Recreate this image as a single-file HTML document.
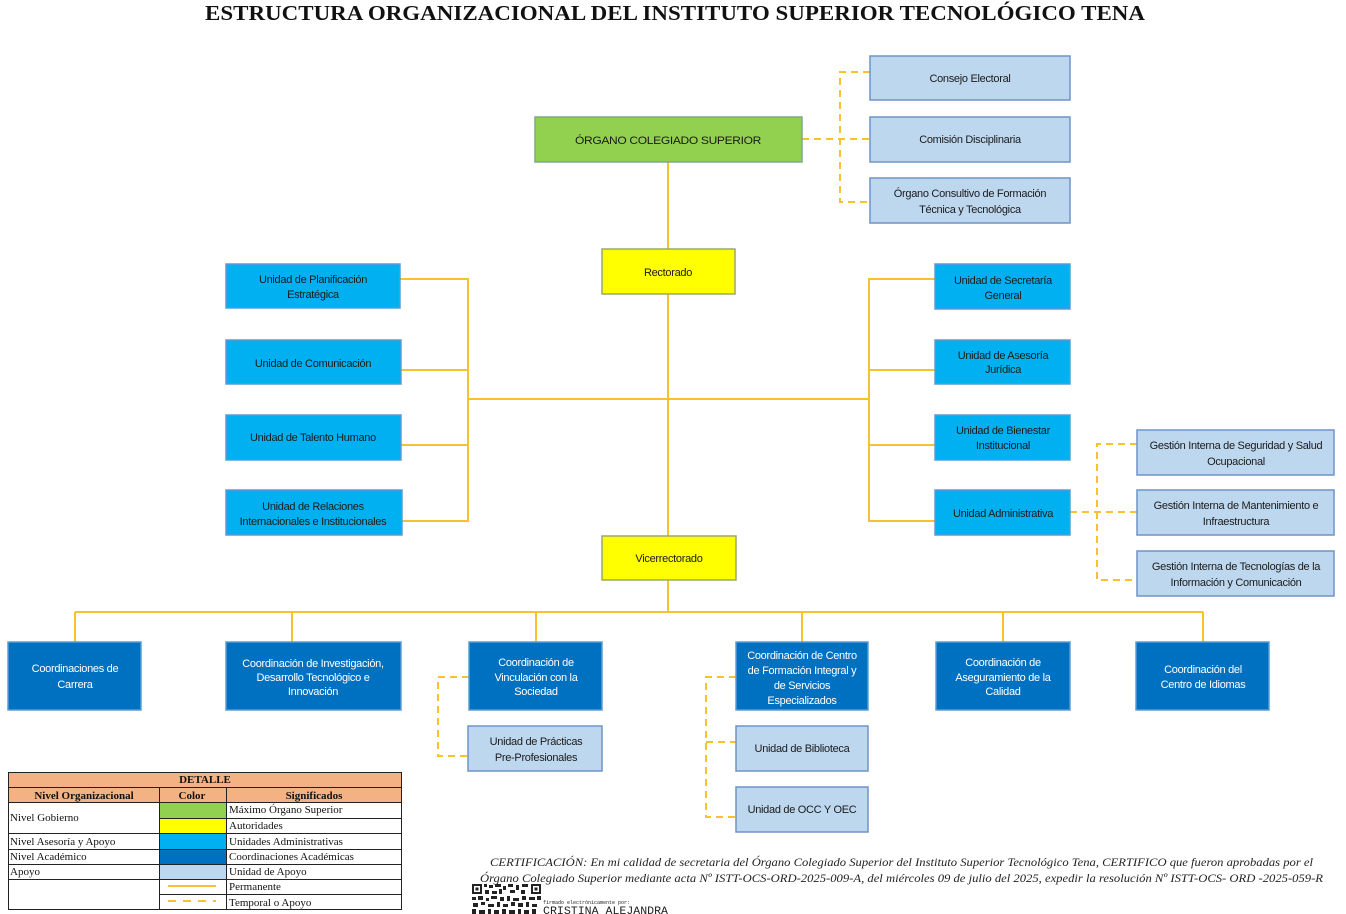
<!DOCTYPE html>
<html><head><meta charset="utf-8"><style>
html,body{margin:0;padding:0;background:#fff;}
svg{display:block;}
.t{font-family:"Liberation Sans",sans-serif;font-size:11px;text-anchor:middle;fill:#1b1b1b;letter-spacing:-0.3px;}
.w{fill:#fff;}
.s{font-family:"Liberation Serif",serif;font-size:11px;fill:#111;}
.sb{font-family:"Liberation Serif",serif;font-size:11px;font-weight:bold;fill:#111;text-anchor:middle;}
</style></head><body>
<svg width="1346" height="914" viewBox="0 0 1346 914" xmlns="http://www.w3.org/2000/svg">
<rect width="1346" height="914" fill="#fff"/>
<text x="675" y="20" font-family="Liberation Serif,serif" font-weight="bold" font-size="21" text-anchor="middle" textLength="940" lengthAdjust="spacingAndGlyphs" fill="#111">ESTRUCTURA ORGANIZACIONAL DEL INSTITUTO SUPERIOR TECNOLÓGICO TENA</text>

<!-- solid connectors -->
<g stroke="#F7C12F" stroke-width="2" fill="none">
<line x1="668" y1="162" x2="668" y2="249"/>
<line x1="668" y1="294" x2="668" y2="536"/>
<line x1="468" y1="399" x2="869" y2="399"/>
<polyline points="400,279 468,279 468,521 402,521"/>
<line x1="401" y1="370" x2="468" y2="370"/>
<line x1="401" y1="445" x2="468" y2="445"/>
<polyline points="935,279 869,279 869,521 935,521"/>
<line x1="869" y1="370" x2="935" y2="370"/>
<line x1="869" y1="445" x2="935" y2="445"/>
<line x1="668" y1="580" x2="668" y2="612"/>
<line x1="75" y1="612" x2="1203" y2="612"/>
<line x1="75" y1="612" x2="75" y2="642"/>
<line x1="292" y1="612" x2="292" y2="642"/>
<line x1="536" y1="612" x2="536" y2="642"/>
<line x1="802" y1="612" x2="802" y2="642"/>
<line x1="1003" y1="612" x2="1003" y2="642"/>
<line x1="1203" y1="612" x2="1203" y2="642"/>
</g>
<!-- dashed connectors -->
<g stroke="#F7C12F" stroke-width="2" fill="none" stroke-dasharray="7,5">
<line x1="802" y1="139" x2="870" y2="139"/>
<polyline points="870,72 840,72 840,202 870,202"/>
<line x1="1070" y1="512" x2="1137" y2="512"/>
<polyline points="1137,444 1097,444 1097,580 1137,580"/>
<polyline points="469,677 438,677 438,756 468,756"/>
<polyline points="736,677 706,677 706,817 736,817"/>
<line x1="706" y1="742" x2="736" y2="742"/>
</g>

<!-- boxes -->
<g stroke-width="1.5">
<rect x="535" y="117" width="267" height="45" fill="#92D050" stroke="#7FA88A"/>
<rect x="870" y="56" width="200" height="44" fill="#BDD7EE" stroke="#6F94C6"/>
<rect x="870" y="117" width="200" height="45" fill="#BDD7EE" stroke="#6F94C6"/>
<rect x="870" y="178" width="200" height="45" fill="#BDD7EE" stroke="#6F94C6"/>
<rect x="602" y="249" width="133" height="45" fill="#FFFF00" stroke="#9AA86A"/>
<rect x="602" y="536" width="134" height="44" fill="#FFFF00" stroke="#9AA86A"/>
<rect x="226" y="264" width="174" height="44" fill="#00B0F0" stroke="#5B9BD5"/>
<rect x="226" y="340" width="175" height="44" fill="#00B0F0" stroke="#5B9BD5"/>
<rect x="226" y="415" width="175" height="45" fill="#00B0F0" stroke="#5B9BD5"/>
<rect x="226" y="490" width="176" height="45" fill="#00B0F0" stroke="#5B9BD5"/>
<rect x="935" y="264" width="135" height="45" fill="#00B0F0" stroke="#5B9BD5"/>
<rect x="935" y="340" width="135" height="44" fill="#00B0F0" stroke="#5B9BD5"/>
<rect x="935" y="415" width="135" height="45" fill="#00B0F0" stroke="#5B9BD5"/>
<rect x="935" y="490" width="135" height="45" fill="#00B0F0" stroke="#5B9BD5"/>
<rect x="1137" y="430" width="197" height="45" fill="#BDD7EE" stroke="#6F94C6"/>
<rect x="1137" y="490" width="197" height="45" fill="#BDD7EE" stroke="#6F94C6"/>
<rect x="1137" y="551" width="197" height="45" fill="#BDD7EE" stroke="#6F94C6"/>
<rect x="8" y="642" width="133" height="68" fill="#0070C0" stroke="#5B9BD5"/>
<rect x="226" y="642" width="175" height="68" fill="#0070C0" stroke="#5B9BD5"/>
<rect x="469" y="642" width="133" height="68" fill="#0070C0" stroke="#5B9BD5"/>
<rect x="736" y="642" width="132" height="68" fill="#0070C0" stroke="#5B9BD5"/>
<rect x="936" y="642" width="134" height="68" fill="#0070C0" stroke="#5B9BD5"/>
<rect x="1136" y="642" width="133" height="68" fill="#0070C0" stroke="#5B9BD5"/>
<rect x="468" y="726" width="134" height="45" fill="#BDD7EE" stroke="#6F94C6"/>
<rect x="736" y="726" width="132" height="45" fill="#BDD7EE" stroke="#6F94C6"/>
<rect x="736" y="787" width="132" height="45" fill="#BDD7EE" stroke="#6F94C6"/>
</g>

<!-- box text -->
<text class="t" x="668" y="144" font-size="12.5" textLength="186" lengthAdjust="spacingAndGlyphs">ÓRGANO COLEGIADO SUPERIOR</text>
<text class="t" x="970" y="82">Consejo Electoral</text>
<text class="t" x="970" y="143">Comisión Disciplinaria</text>
<text class="t" x="970" y="197">Órgano Consultivo de Formación</text>
<text class="t" x="970" y="213">Técnica y Tecnológica</text>
<text class="t" x="668" y="276">Rectorado</text>
<text class="t" x="669" y="562">Vicerrectorado</text>
<text class="t" x="313" y="283">Unidad de Planificación</text>
<text class="t" x="313" y="298">Estratégica</text>
<text class="t" x="313" y="367">Unidad de Comunicación</text>
<text class="t" x="313" y="441">Unidad de Talento Humano</text>
<text class="t" x="313" y="510">Unidad de Relaciones</text>
<text class="t" x="313" y="525">Internacionales e Institucionales</text>
<text class="t" x="1003" y="284">Unidad de Secretaría</text>
<text class="t" x="1003" y="299">General</text>
<text class="t" x="1003" y="359">Unidad de Asesoría</text>
<text class="t" x="1003" y="373">Jurídica</text>
<text class="t" x="1003" y="434">Unidad de Bienestar</text>
<text class="t" x="1003" y="449">Institucional</text>
<text class="t" x="1003" y="517">Unidad  Administrativa</text>
<text class="t" x="1236" y="449">Gestión Interna de Seguridad y Salud</text>
<text class="t" x="1236" y="465">Ocupacional</text>
<text class="t" x="1236" y="509">Gestión Interna de Mantenimiento e</text>
<text class="t" x="1236" y="525">Infraestructura</text>
<text class="t" x="1236" y="570">Gestión Interna de Tecnologías de la</text>
<text class="t" x="1236" y="586">Información y Comunicación</text>
<text class="t w" x="75" y="672">Coordinaciones de</text>
<text class="t w" x="75" y="688">Carrera</text>
<text class="t w" x="313" y="667" font-size="10">Coordinación de Investigación,</text>
<text class="t w" x="313" y="681" font-size="10">Desarrollo Tecnológico e</text>
<text class="t w" x="313" y="695" font-size="10">Innovación</text>
<text class="t w" x="536" y="666">Coordinación de</text>
<text class="t w" x="536" y="681">Vinculación con la</text>
<text class="t w" x="536" y="695">Sociedad</text>
<text class="t w" x="802" y="659">Coordinación de Centro</text>
<text class="t w" x="802" y="674">de Formación Integral y</text>
<text class="t w" x="802" y="689">de Servicios</text>
<text class="t w" x="802" y="704">Especializados</text>
<text class="t w" x="1003" y="666">Coordinación de</text>
<text class="t w" x="1003" y="681">Aseguramiento de la</text>
<text class="t w" x="1003" y="695">Calidad</text>
<text class="t w" x="1203" y="673">Coordinación del</text>
<text class="t w" x="1203" y="688">Centro de Idiomas</text>
<text class="t" x="536" y="745">Unidad de Prácticas</text>
<text class="t" x="536" y="761">Pre-Profesionales</text>
<text class="t" x="802" y="752">Unidad de Biblioteca</text>
<text class="t" x="802" y="813">Unidad de  OCC Y OEC</text>

<!-- legend -->
<rect x="8" y="772" width="394" height="30" fill="#F4B183"/>
<rect x="159" y="802" width="67" height="16" fill="#92D050"/>
<rect x="159" y="818" width="67" height="15" fill="#FFFF00"/>
<rect x="159" y="833" width="67" height="16" fill="#00B0F0"/>
<rect x="159" y="849" width="67" height="15" fill="#0070C0"/>
<rect x="159" y="864" width="67" height="15" fill="#BDD7EE"/>
<line x1="168" y1="886" x2="216" y2="886" stroke="#F7C12F" stroke-width="2"/>
<line x1="168" y1="901" x2="216" y2="901" stroke="#F7C12F" stroke-width="2" stroke-dasharray="8,7"/>
<g stroke="#222" stroke-width="1" fill="none">
<rect x="8.5" y="772.5" width="393" height="137"/>
<line x1="8" y1="787.5" x2="402" y2="787.5"/>
<line x1="8" y1="802.5" x2="402" y2="802.5"/>
<line x1="159" y1="818.5" x2="402" y2="818.5"/>
<line x1="8" y1="833.5" x2="402" y2="833.5"/>
<line x1="8" y1="849.5" x2="402" y2="849.5"/>
<line x1="8" y1="864.5" x2="402" y2="864.5"/>
<line x1="8" y1="879.5" x2="402" y2="879.5"/>
<line x1="159" y1="894.5" x2="402" y2="894.5"/>
<line x1="159.5" y1="787" x2="159.5" y2="910"/>
<line x1="226.5" y1="787" x2="226.5" y2="910"/>
</g>
<text class="sb" x="205" y="783">DETALLE</text>
<text class="sb" x="84" y="799">Nivel Organizacional</text>
<text class="sb" x="192" y="799">Color</text>
<text class="sb" x="314" y="799">Significados</text>
<text class="s" x="10" y="821">Nivel Gobierno</text>
<text class="s" x="10" y="845">Nivel Asesoría y Apoyo</text>
<text class="s" x="10" y="860">Nivel Académico</text>
<text class="s" x="10" y="875">Apoyo</text>
<text class="s" x="229" y="813">Máximo Órgano Superior</text>
<text class="s" x="229" y="829">Autoridades</text>
<text class="s" x="229" y="845">Unidades Administrativas</text>
<text class="s" x="229" y="860">Coordinaciones Académicas</text>
<text class="s" x="229" y="875">Unidad de Apoyo</text>
<text class="s" x="229" y="890">Permanente</text>
<text class="s" x="229" y="906">Temporal o Apoyo</text>

<!-- certification -->
<text x="490" y="866" font-family="Liberation Serif,serif" font-style="italic" font-size="12" textLength="823" lengthAdjust="spacingAndGlyphs" fill="#222">CERTIFICACIÓN: En mi calidad de secretaria del Órgano Colegiado Superior del Instituto Superior Tecnológico Tena, CERTIFICO que fueron aprobadas por el</text>
<text x="480" y="882" font-family="Liberation Serif,serif" font-style="italic" font-size="12" textLength="843" lengthAdjust="spacingAndGlyphs" fill="#222">Órgano Colegiado Superior mediante acta Nº ISTT-OCS-ORD-2025-009-A, del miércoles 09 de julio del 2025, expedir la resolución Nº ISTT-OCS- ORD -2025-059-R</text>

<!-- QR -->
<g fill="#222">
<rect x="472" y="884" width="10" height="10"/><rect x="474" y="886" width="6" height="6" fill="#fff"/><rect x="475.5" y="887.5" width="3" height="3"/>
<rect x="531" y="884" width="10" height="10"/><rect x="533" y="886" width="6" height="6" fill="#fff"/><rect x="534.5" y="887.5" width="3" height="3"/>
<rect x="484" y="884" width="3" height="3"/><rect x="489" y="885" width="4" height="3"/><rect x="495" y="884" width="6" height="3"/><rect x="503" y="886" width="3" height="4"/><rect x="508" y="884" width="5" height="3"/><rect x="516" y="885" width="3" height="5"/><rect x="522" y="884" width="6" height="3"/>
<rect x="485" y="890" width="4" height="4"/><rect x="492" y="891" width="5" height="3"/><rect x="499" y="889" width="3" height="5"/><rect x="510" y="890" width="5" height="3"/><rect x="521" y="890" width="4" height="4"/>
<rect x="472" y="897" width="4" height="3"/><rect x="478" y="896" width="5" height="4"/><rect x="486" y="898" width="3" height="3"/><rect x="491" y="896" width="6" height="3"/><rect x="500" y="897" width="4" height="4"/><rect x="507" y="896" width="3" height="5"/><rect x="513" y="898" width="6" height="3"/><rect x="522" y="896" width="4" height="4"/><rect x="529" y="897" width="6" height="3"/><rect x="537" y="896" width="4" height="4"/>
<rect x="473" y="903" width="5" height="4"/><rect x="481" y="902" width="4" height="3"/><rect x="488" y="904" width="6" height="3"/><rect x="497" y="902" width="3" height="5"/><rect x="503" y="904" width="5" height="3"/><rect x="511" y="902" width="4" height="4"/><rect x="518" y="903" width="5" height="4"/><rect x="526" y="902" width="3" height="5"/><rect x="532" y="904" width="5" height="3"/>
<rect x="472" y="909" width="4" height="5"/><rect x="479" y="910" width="6" height="4"/><rect x="488" y="909" width="3" height="5"/><rect x="494" y="910" width="5" height="4"/><rect x="502" y="909" width="4" height="5"/><rect x="509" y="910" width="6" height="4"/><rect x="518" y="909" width="3" height="5"/><rect x="524" y="910" width="5" height="4"/><rect x="532" y="909" width="4" height="5"/>
</g>
<text x="543" y="904" font-family="Liberation Mono,monospace" font-size="5" fill="#222">firmado electrónicamente por:</text>
<text x="543" y="914" font-family="Liberation Mono,monospace" font-size="11" textLength="125" lengthAdjust="spacingAndGlyphs" fill="#222">CRISTINA ALEJANDRA</text>
</svg>
</body></html>
